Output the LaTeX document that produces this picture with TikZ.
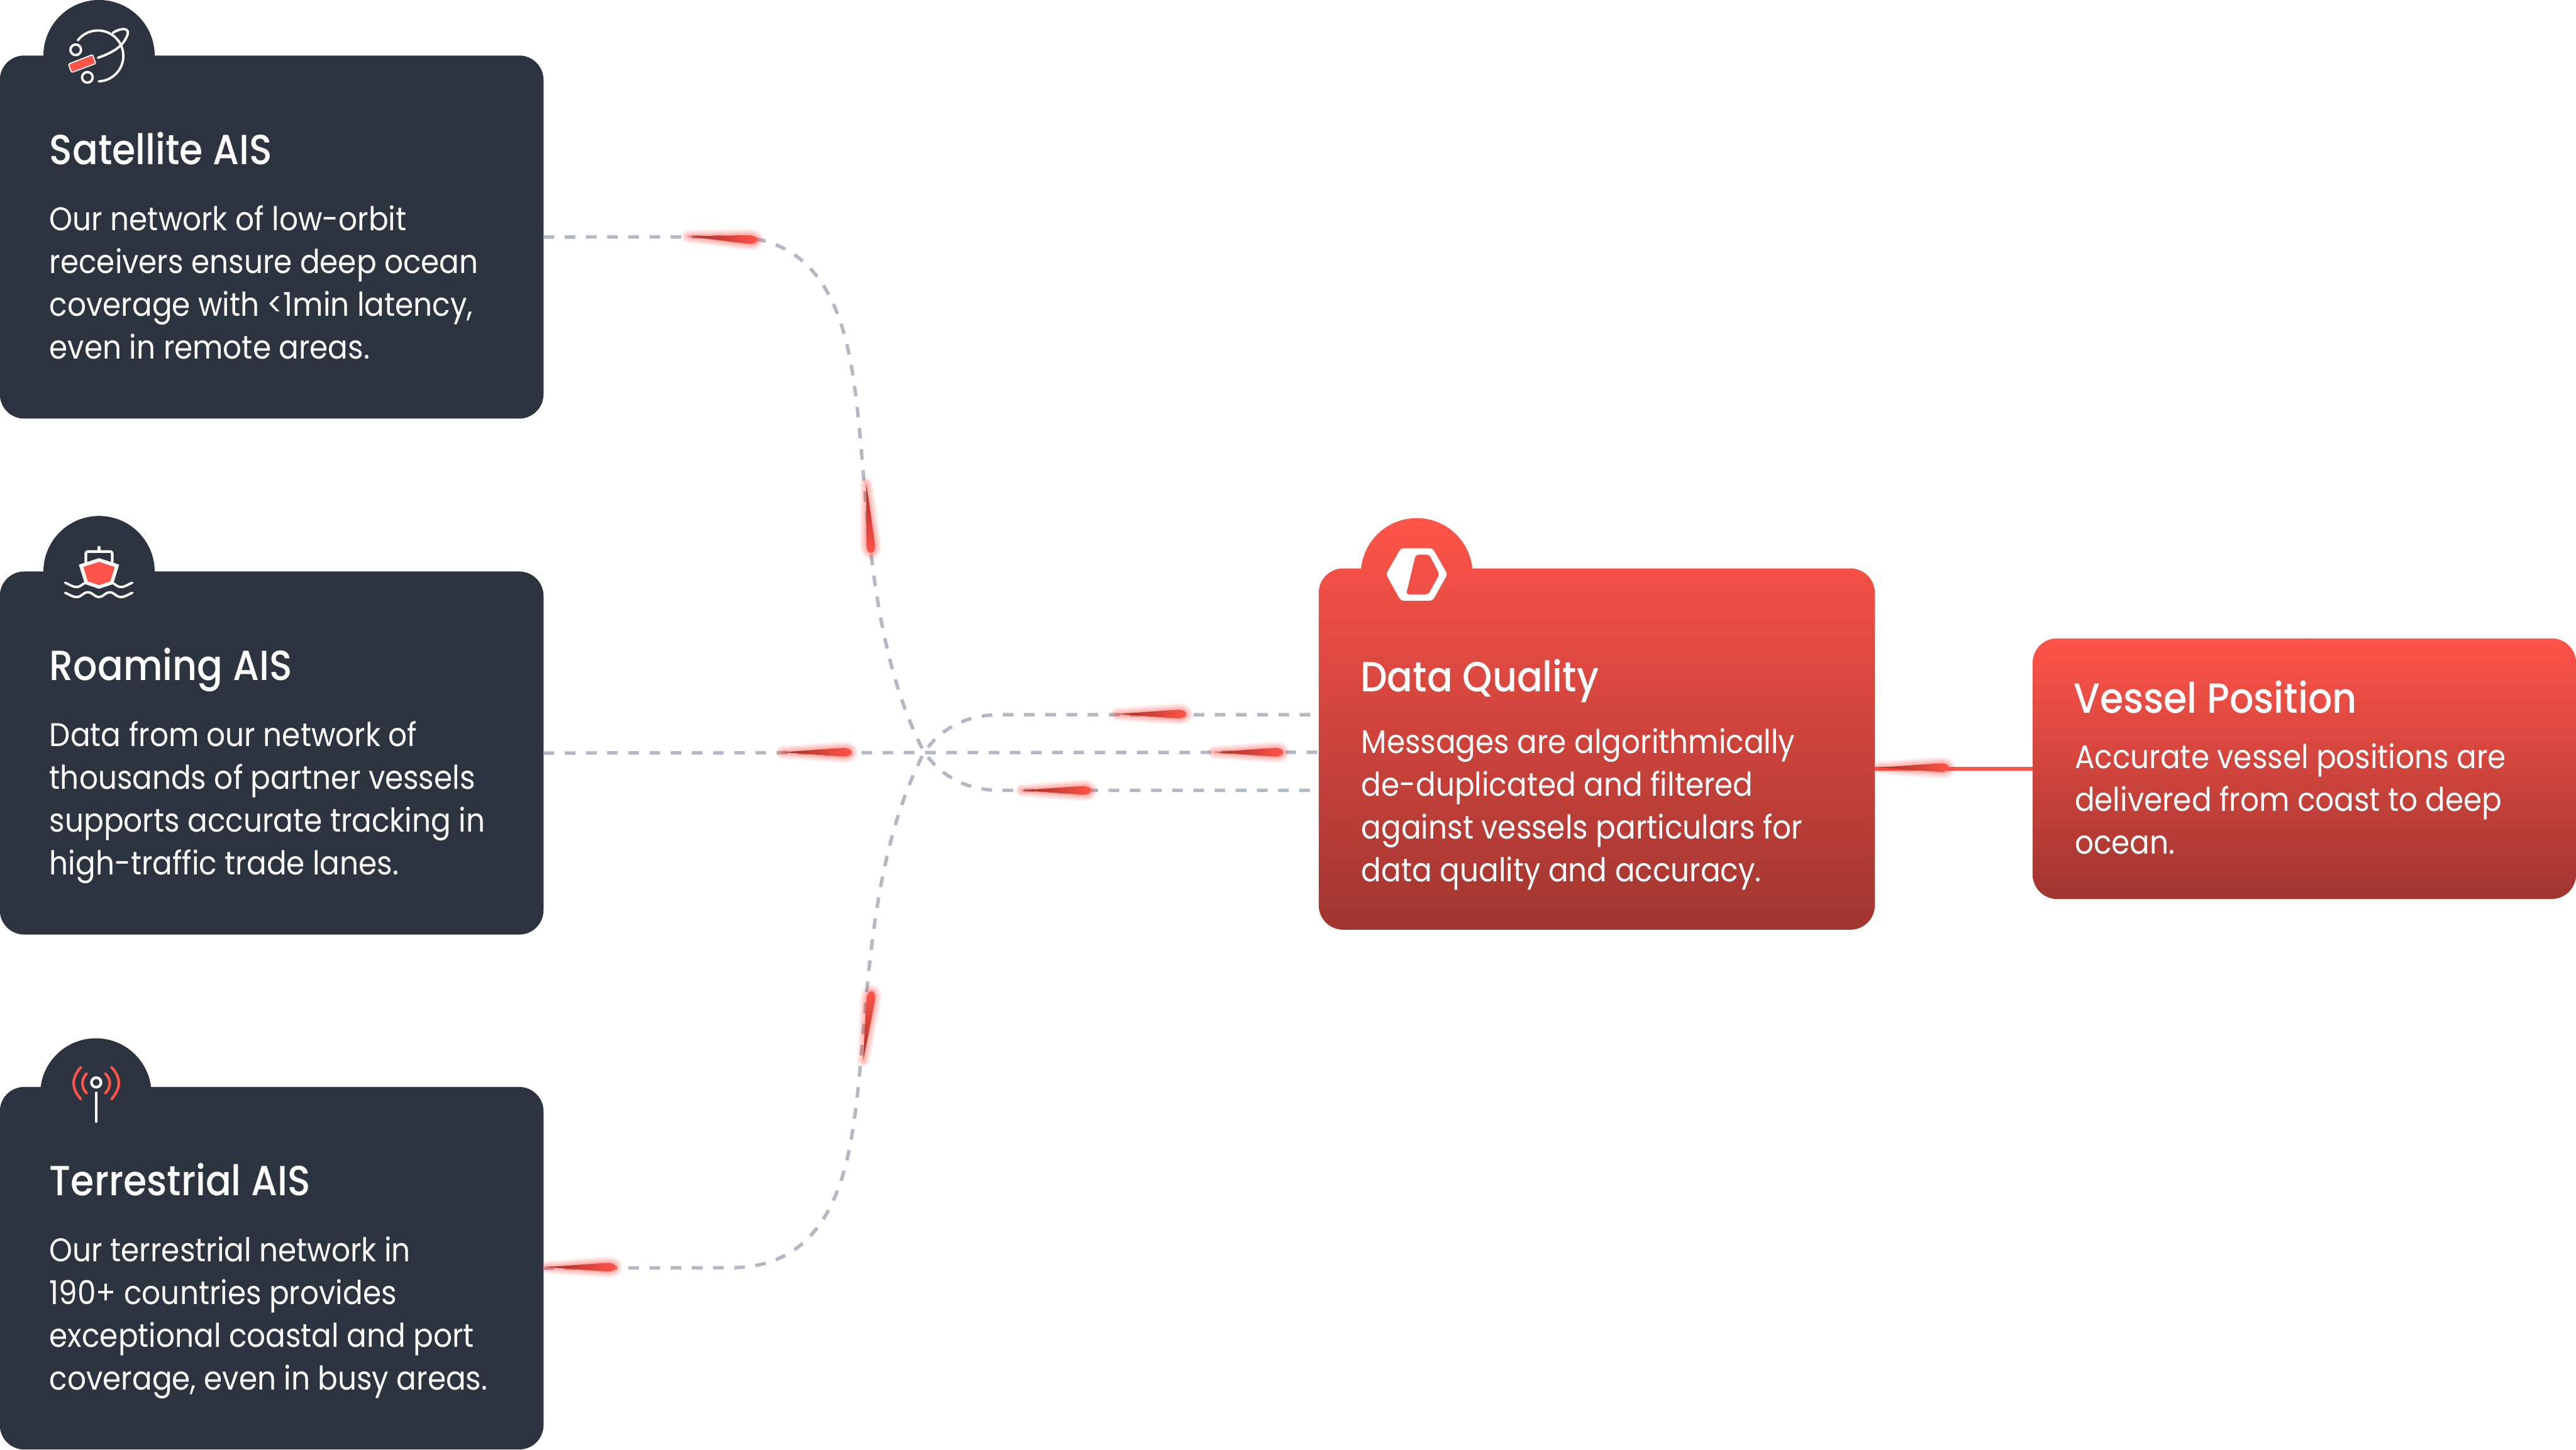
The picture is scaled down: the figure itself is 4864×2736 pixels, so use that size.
\documentclass[tikz,border=0pt]{standalone}
\usepackage{fontspec}
\setmainfont{Poppins}[FakeStretch=0.9]
\newfontfamily\ftitle{Poppins}[UprightFont=* Medium,FakeStretch=0.9]
\usetikzlibrary{calc}
\definecolor{ink}{HTML}{2B343F}
\definecolor{redtop}{HTML}{FF5449}
\definecolor{redbot}{HTML}{A03530}
\definecolor{dashc}{HTML}{B4B7C4}
\definecolor{tail}{HTML}{A22E26}
\definecolor{glow}{HTML}{FF3B30}
\tikzset{
 darkbox/.style={fill=ink,rounded corners=.46cm,inner sep=0pt,outer sep=0pt},
 redboxn/.style={inner sep=0pt,outer sep=0pt},
 titletext/.style={anchor=base west,text=white,inner sep=0pt,font=\ftitle\fontsize{22.6pt}{26pt}\selectfont},
 bodytext/.style={anchor=north west,text=white,inner sep=0pt,align=left,font=\fontsize{17.6pt}{22.93pt}\selectfont},
 dashline/.style={draw=dashc,line width=.065cm,dash pattern=on .2cm off .2cm},
 iconw/.style={draw=white,line width=.045cm,line cap=round,line join=round},
 iconr/.style={draw=redtop,line width=.05cm,line cap=round},
}
\newcommand{\cometshape}{(-131,0) .. controls (-95,-2.5) and (-45,-6.5) .. (-16,-8) .. controls (-6,-8.4) and (0,-4.5) .. (0,0) .. controls (0,4.5) and (-6,8.4) .. (-16,8) .. controls (-45,6.5) and (-95,2.5) .. (-131,0) -- cycle}
\newcommand{\comet}[3]{%
 \begin{scope}[transform canvas={shift={(#1,#2)},rotate=#3}]
  \foreach \w in {1.5,3,5,7,9,11,13.5,16,19,22,25}{
   \draw[draw=glow,draw opacity=.05,line width=\w*.01cm,line join=round] \cometshape;}
  \shade[left color=tail,right color=redtop] \cometshape;
 \end{scope}}
\newcommand{\redshape}[7]{%  x0 y0 x1 y1 cx cy r
 \begin{scope}\clip[rounded corners=.46cm] (#1,#2) rectangle (#3,#4);
  \shade[top color=redtop,bottom color=redbot] (#1,#6-#7) rectangle (#3,#4);\end{scope}
 \begin{scope}\clip (#5,#6) circle[radius=#7*.01cm];
  \shade[top color=redtop,bottom color=redbot] (#1,#6-#7) rectangle (#3,#4);\end{scope}}
\begin{document}
\begin{tikzpicture}[x=.01cm,y=-.01cm]
\useasboundingbox (0,0) rectangle (4864,2736);
% named boxes
\node[darkbox,minimum width=10.26cm,minimum height=6.85cm] (sat) at (513,447.5) {};
\node[darkbox,minimum width=10.26cm,minimum height=6.85cm] (roam) at (513,1421.5) {};
\node[darkbox,minimum width=10.26cm,minimum height=6.84cm] (terr) at (513,2394) {};
\node[redboxn,minimum width=10.5cm,minimum height=6.82cm] (data) at (3015,1414) {};
\node[redboxn,minimum width=10.26cm,minimum height=4.92cm] (vessel) at (4351,1451) {};
\coordinate (dtop) at (2490,1349);
\coordinate (dmid) at (2490,1420);
\coordinate (dbot) at (2490,1492);
\coordinate (hub) at (1745,1420);
% connectors
\draw[dashline] (sat.east) -- (1380,447) .. controls (1530,447) and (1590,560) .. (1612,720)
  .. controls (1640,900) and (1630,1200) .. (hub) .. controls (1775,1462) and (1820,1492) .. (1890,1492) -- (dbot);
\draw[dashline] (terr.east) -- (1380,2393) .. controls (1530,2393) and (1590,2280) .. (1612,2120)
  .. controls (1640,1940) and (1630,1640) .. (hub) .. controls (1775,1378) and (1820,1349) .. (1890,1349) -- (dtop);
\draw[dashline] (roam.east) -- (dmid);
\draw[draw=redtop,line width=.08cm] (vessel.west) -- (vessel.west -| data.east);
% comets
\comet{1430}{453}{-3}
\comet{1645}{1044}{-86}
\comet{1646}{1871}{83}
\comet{1608}{1420}{0}
\comet{2423}{1420}{0}
\comet{2240}{1348}{0}
\comet{2060}{1492}{0}
\comet{1163}{2392}{0}
\comet{3680}{1449}{0}
% dark box bumps
\fill[ink] (187,105) circle[radius=1.05cm];
\fill[ink] (187,1079) circle[radius=1.05cm];
\fill[ink] (181,2065) circle[radius=1.05cm];
% red boxes
\redshape{2490}{1073}{3540}{1755}{2675}{1083.5}{105.5}
\redshape{3838}{1205}{4864}{1697}{4351}{1255}{50}
% satellite icon
\draw[iconw] (147,76) arc[start angle=142,end angle=-88,radius=.48cm];
\draw[iconw] (185,109) .. controls (205,102) and (228,92) .. (238,72) .. controls (250,50) and (228,52) .. (213,62);
\draw[iconw] (143,94) circle[radius=.1cm];
\draw[iconw] (165,146) circle[radius=.1cm];
\draw[draw=white,fill=redtop,line width=.02cm,rounded corners=.03cm] (129,121) -- (175,103) -- (181,120) -- (135,137) -- cycle;
% ship icon
\draw[iconw,line width=.05cm] (187,1033) -- (187,1039);
\draw[iconw,line width=.05cm,rounded corners=.04cm] (162,1062) -- (162,1041) -- (212,1041) -- (212,1062);
\draw[iconw] (123,1100) to[out=-20,in=180] (145,1108) to[out=0,in=180] (166,1099) to[out=0,in=180] (187,1108) to[out=0,in=180] (207,1099) to[out=0,in=180] (228,1108) to[out=0,in=200] (250,1100);
\draw[iconw] (123,1119) to[out=-20,in=180] (145,1127) to[out=0,in=180] (166,1118) to[out=0,in=180] (187,1127) to[out=0,in=180] (207,1118) to[out=0,in=180] (228,1127) to[out=0,in=200] (250,1119);
\draw[draw=white,fill=redtop,line width=.065cm,line join=miter] (187,1057) -- (221,1068) -- (211,1100) -- (187,1108) -- (163,1100) -- (153,1068) -- cycle;
% antenna icon
\draw[iconw,line width=.05cm] (181.7,2043.3) circle[radius=.09cm];
\draw[iconw,line width=.05cm] (181.7,2063) -- (181.7,2117);
\draw[iconr] (152.3,2015) .. controls (134.6,2035) and (134.6,2054) .. (152.3,2074.3);
\draw[iconr] (163.3,2026.7) .. controls (153.2,2037) and (153.2,2053) .. (163.3,2063.3);
\draw[iconr] (211,2015) .. controls (228.7,2035) and (228.7,2054) .. (211,2074.3);
\draw[iconr] (199,2026.7) .. controls (210,2037) and (210,2053) .. (199,2063.3);
% data icon
\fill[white,even odd rule,rounded corners=.05cm] (2645,1035) -- (2705,1035) -- (2733,1084) -- (2705,1134) -- (2645,1134) -- (2617,1084) -- cycle
  (2673,1047) -- (2699,1047) -- (2718,1084) -- (2697,1122) -- (2655,1122) -- cycle;
% text
\node[titletext] (t1) at (93,310) {Satellite AIS};
\node[bodytext] (b1) at (93,387) {Our network of low-orbit\\receivers ensure deep ocean\\coverage with <1min latency,\\even in remote areas.};
\node[titletext] (t2) at (93,1284) {Roaming AIS};
\node[bodytext] (b2) at (93,1361) {Data from our network of\\thousands of partner vessels\\supports accurate tracking in\\high-traffic trade lanes.};
\node[titletext] (t3) at (93,2257) {Terrestrial AIS};
\node[bodytext] (b3) at (93,2334) {Our terrestrial network in\\190+ countries provides\\exceptional coastal and port\\coverage, even in busy areas.};
\node[titletext] (t4) at (2568,1306) {Data Quality};
\node[bodytext] (b4) at (2570,1374) {Messages are algorithmically\\de-duplicated and filtered\\against vessels particulars for\\data quality and accuracy.};
\node[titletext] (t5) at (3915,1346) {Vessel Position};
\node[bodytext] (b5) at (3917,1403) {Accurate vessel positions are\\delivered from coast to deep\\ocean.};
\end{tikzpicture}
\end{document}
